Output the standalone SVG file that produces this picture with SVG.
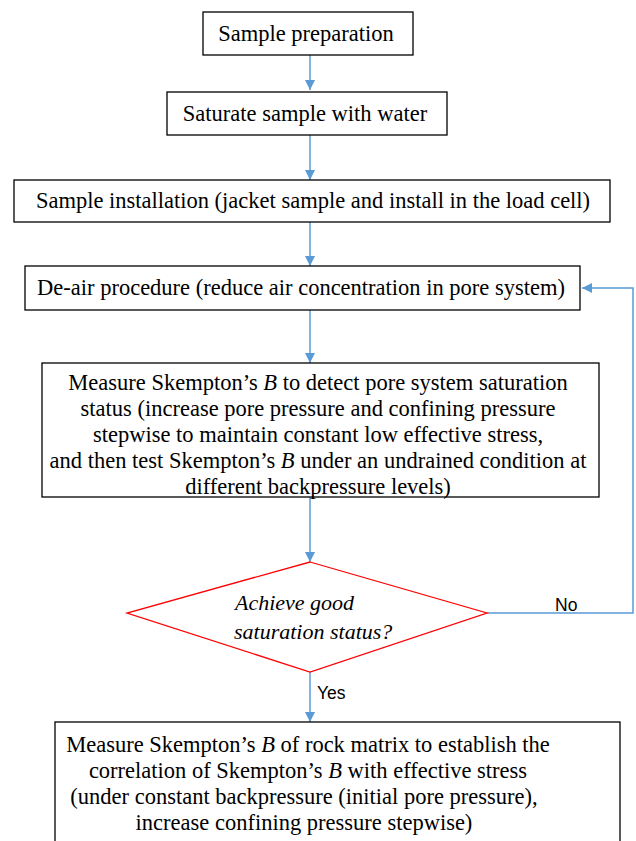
<svg xmlns="http://www.w3.org/2000/svg" width="636" height="841" viewBox="0 0 636 841">
<defs>
<marker id="ah" viewBox="0 0 10 10" refX="10" refY="5" markerWidth="10" markerHeight="10" markerUnits="userSpaceOnUse" orient="auto">
<path d="M0,0 L10,5 L0,10 Z" fill="#5b9bd5"/>
</marker>
<style>
.box{fill:#fff;stroke:#000;stroke-width:1.3}
.dia{fill:#fff;stroke:#ff0000;stroke-width:1.3}
.t{font-size:22.5px;fill:#000;text-anchor:middle}
.ti{font-size:22px;font-style:italic;fill:#000}
.lbl{font-size:17.5px;fill:#000}
.c{fill:none;stroke:#5b9bd5;stroke-width:1.5}
</style>
</defs>
<rect width="636" height="841" fill="#fff"/>
<g id="connectors">
<line class="c" x1="310" y1="55" x2="310" y2="90" marker-end="url(#ah)"/>
<line class="c" x1="310" y1="135" x2="310" y2="180" marker-end="url(#ah)"/>
<line class="c" x1="310" y1="222" x2="310" y2="266" marker-end="url(#ah)"/>
<line class="c" x1="310" y1="310" x2="310" y2="363" marker-end="url(#ah)"/>
<line class="c" x1="310" y1="497" x2="310" y2="562" marker-end="url(#ah)"/>
<line class="c" x1="310" y1="672" x2="310" y2="722" marker-end="url(#ah)"/>
<polyline class="c" points="487,613 633,613 633,288 582,288" marker-end="url(#ah)"/>
<text class="lbl" font-family="Liberation Sans, Arial, sans-serif" x="555" y="611">No</text>
<text class="lbl" font-family="Liberation Sans, Arial, sans-serif" x="317" y="699">Yes</text>
</g>
<g font-family="Liberation Serif, Times New Roman, DejaVu Serif, serif">
<g id="n1"><rect class="box" x="203" y="12" width="210" height="43"/><text class="t" x="306" y="41">Sample preparation</text></g>
<g id="n2"><rect class="box" x="167" y="92" width="280" height="43"/><text class="t" x="305" y="121">Saturate sample with water</text></g>
<g id="n3"><rect class="box" x="14" y="180" width="596" height="42"/><text class="t" x="313" y="208">Sample installation (jacket sample and install in the load cell)</text></g>
<g id="n4"><rect class="box" x="25" y="266" width="555" height="44"/><text class="t" x="301" y="295">De-air procedure (reduce air concentration in pore system)</text></g>
<g id="n5"><rect class="box" x="42" y="363" width="557" height="134"/>
<text class="t" x="318" y="390">Measure Skempton’s <tspan font-style="italic">B</tspan> to detect pore system saturation</text>
<text class="t" x="318" y="416">status (increase pore pressure and confining pressure</text>
<text class="t" x="318" y="442">stepwise to maintain constant low effective stress,</text>
<text class="t" x="318" y="468">and then test Skempton’s <tspan font-style="italic">B</tspan> under an undrained condition at</text>
<text class="t" x="318" y="494">different backpressure levels)</text>
</g>
<g id="n6"><polygon class="dia" points="310,562 487,613 310,672 127,613"/>
<text class="ti" x="235" y="610">Achieve good</text>
<text class="ti" x="234" y="639">saturation status?</text>
</g>
<g id="n7"><rect class="box" x="55" y="722" width="565" height="130"/>
<text class="t" x="308" y="752">Measure Skempton’s <tspan font-style="italic">B</tspan> of rock matrix to establish the</text>
<text class="t" x="308" y="778">correlation of Skempton’s <tspan font-style="italic">B</tspan> with effective stress</text>
<text class="t" x="304" y="804">(under constant backpressure (initial pore pressure),</text>
<text class="t" x="304" y="830">increase confining pressure stepwise)</text>
</g>
</g>
</svg>
